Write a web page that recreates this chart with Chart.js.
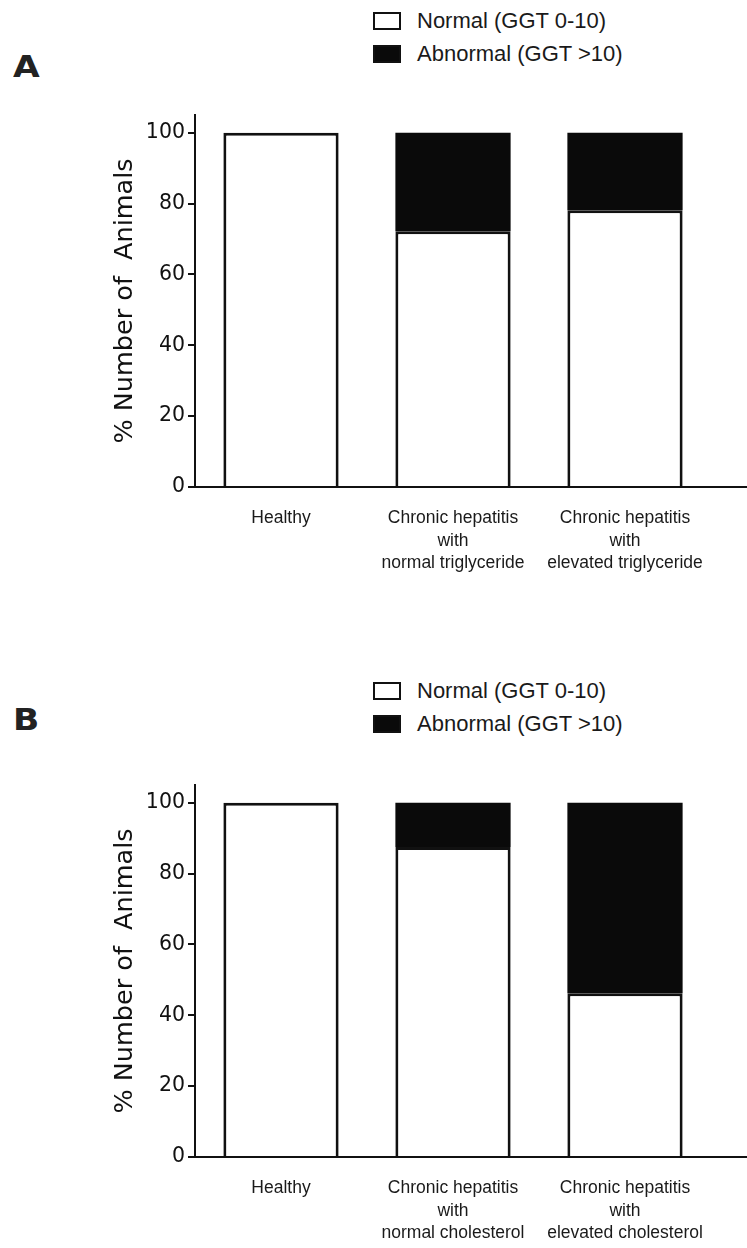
<!DOCTYPE html>
<html>
<head>
<meta charset="utf-8">
<script src="https://cdn.jsdelivr.net/npm/chart.js@4.4.1/dist/chart.umd.min.js"></script>
<style>
    body { margin: 0; background: #fff; width: 747px; height: 1248px; overflow: hidden; position: relative; }
    .panel { position: absolute; left: 0; width: 747px; height: 620px; }
    .panel canvas { position: absolute; left: 0; top: 0; }
    .tag { position: absolute; left: 13px; font: bold 30px "DejaVu Sans", sans-serif; line-height: normal; color: #222; transform: scaleX(1.15); transform-origin: left top; }
    .legend { position: absolute; left: 373px; font: 22px "Liberation Sans", Arial, sans-serif; color: #1a1a1a; }
    .legend div { height: 33px; display: flex; align-items: center; }
    .legend span.box { display: inline-block; width: 24px; height: 14px; border: 2px solid #111; margin-right: 16px; }
</style>
</head>
<body>
<div class="panel" style="top:0px">
    <div class="tag" style="top:49px">A</div>
    <div class="legend" id="legendA" style="top:4px"></div>
    <canvas id="chartA" width="747" height="620"></canvas>
</div>
<div class="panel" style="top:670px">
    <div class="tag" style="top:32px">B</div>
    <div class="legend" id="legendB" style="top:4px"></div>
    <canvas id="chartB" width="747" height="620"></canvas>
</div>
<script>
const seriesNames = ['Normal (GGT 0-10)', 'Abnormal (GGT >10)'];

const categoriesA = [
    'Healthy',
    ['Chronic hepatitis', 'with', 'normal triglyceride'],
    ['Chronic hepatitis', 'with', 'elevated triglyceride']
];
const normalA = [100, 72.2, 78.1];
const abnormalA = [0, 27.8, 21.9];

const categoriesB = [
    'Healthy',
    ['Chronic hepatitis', 'with', 'normal cholesterol'],
    ['Chronic hepatitis', 'with', 'elevated cholesterol']
];
const normalB = [100, 87.5, 46.2];
const abnormalB = [0, 12.5, 53.8];

const yMax = 105;
const yStep = 20;

// x axis line in the figure runs on to the page edge
const axisRunout = {
    id: 'axisRunout',
    afterDraw(chart) {
        const x = chart.scales.x;
        const ctx = chart.ctx;
        ctx.save();
        ctx.strokeStyle = '#111';
        ctx.lineWidth = 2;
        ctx.beginPath();
        ctx.moveTo(x.right - 1, x.top);
        ctx.lineTo(chart.width, x.top);
        ctx.stroke();
        ctx.restore();
    }
};

function buildLegend(chart, el) {
    chart.data.datasets.forEach(ds => {
        const row = document.createElement('div');
        const box = document.createElement('span');
        box.className = 'box';
        box.style.background = ds.backgroundColor;
        row.appendChild(box);
        row.appendChild(document.createTextNode(ds.label));
        el.appendChild(row);
    });
}

function makeChart(canvasId, legendId, labels, normal, abnormal) {
    const ctx = document.getElementById(canvasId).getContext('2d');
    const chart = new Chart(ctx, {
        type: 'bar',
        data: {
            labels: labels,
            datasets: [{
                label: seriesNames[0],
                data: normal,
                backgroundColor: '#ffffff',
                borderColor: '#111111',
                borderWidth: 3,
                borderSkipped: 'start',
                categoryPercentage: 1,
                barPercentage: 0.67
            }, {
                label: seriesNames[1],
                data: abnormal,
                backgroundColor: '#0a0a0a',
                borderWidth: 0,
                categoryPercentage: 1,
                barPercentage: 0.67
            }]
        },
        options: {
            responsive: false,
            animation: false,
            layout: { padding: { top: 115, right: 36, bottom: 33, left: 0 } },
            plugins: {
                legend: { display: false },
                tooltip: { enabled: false }
            },
            scales: {
                x: {
                    stacked: true,
                    grid: { display: false, drawTicks: false },
                    border: { display: true, color: '#111', width: 2 },
                    ticks: {
                        color: '#1a1a1a',
                        padding: 20,
                        maxRotation: 0,
                        autoSkip: false,
                        font: { family: 'Liberation Sans', size: 17.5, lineHeight: 1.29 }
                    },
                    afterFit: (axis) => { axis.height = 100; }
                },
                y: {
                    stacked: true,
                    min: 0,
                    max: yMax,
                    grid: { drawOnChartArea: false, drawTicks: true, tickLength: 7, color: '#111', lineWidth: 2 },
                    border: { display: true, color: '#111', width: 2 },
                    ticks: {
                        stepSize: yStep,
                        includeBounds: false,
                        color: '#111',
                        padding: 3,
                        font: { family: 'DejaVu Sans', size: 20.5 }
                    },
                    title: {
                        display: true,
                        text: '% Number of  Animals',
                        color: '#111',
                        padding: { top: 110, bottom: 0 },
                        font: { family: 'DejaVu Sans', size: 25.5, lineHeight: 1.2 }
                    },
                    afterFit: (axis) => { axis.width = 195; }
                }
            }
        },
        plugins: [axisRunout]
    });
    buildLegend(chart, document.getElementById(legendId));
    return chart;
}

makeChart('chartA', 'legendA', categoriesA, normalA, abnormalA);
makeChart('chartB', 'legendB', categoriesB, normalB, abnormalB);
</script>
</body>
</html>
